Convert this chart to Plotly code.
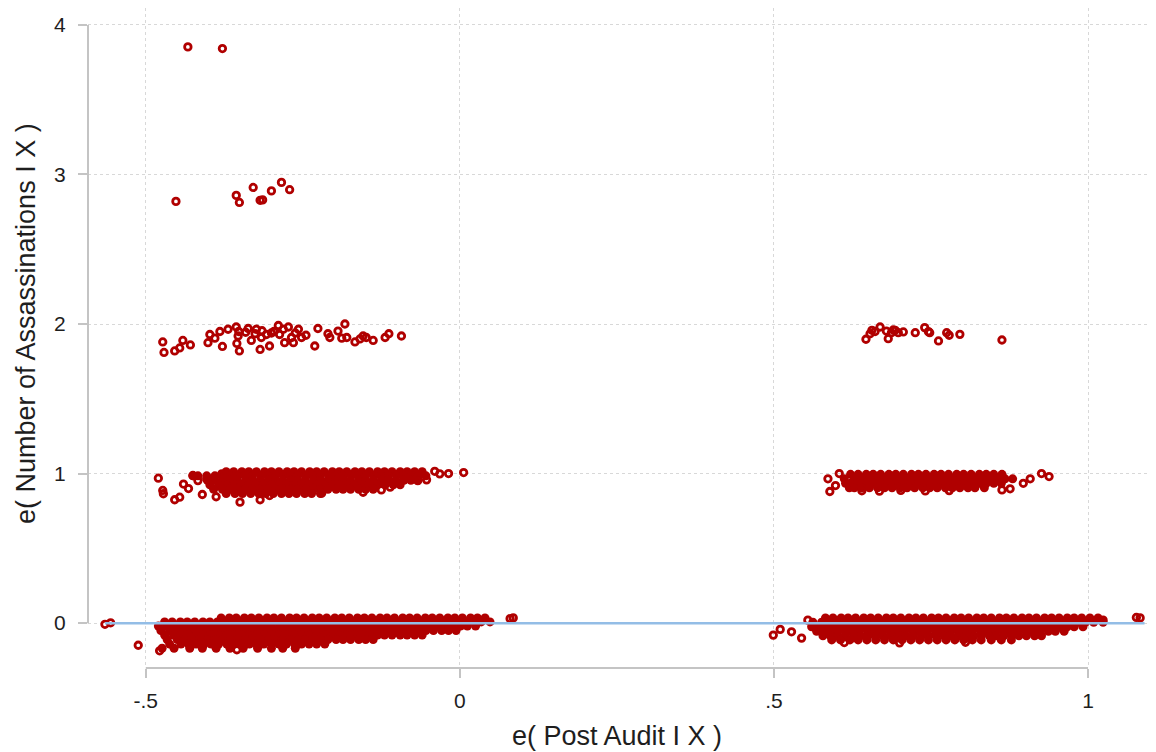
import plotly.graph_objects as go

# ---------------- data ----------------
# sparse points near y = 4 and y = 3 (left group)
top_x = [-0.433, -0.378]
top_y = [3.853, 3.842]

three_x = [-0.452, -0.356, -0.351, -0.329, -0.318, -0.314, -0.300, -0.284, -0.271]
three_y = [2.820, 2.860, 2.813, 2.913, 2.827, 2.830, 2.890, 2.947, 2.898]

# points near y = 2 (left group)
two_left_x = [-0.473, -0.471, -0.454, -0.446, -0.441, -0.429, -0.401, -0.398, -0.390, -0.382,
              -0.378, -0.369, -0.356, -0.353, -0.355, -0.351, -0.337, -0.332, -0.326, -0.324,
              -0.318, -0.316, -0.308, -0.303, -0.300, -0.289, -0.287, -0.281, -0.279, -0.273,
              -0.268, -0.265, -0.257, -0.252, -0.231, -0.226, -0.210, -0.207, -0.194, -0.188,
              -0.183, -0.180, -0.167, -0.159, -0.154, -0.149, -0.138, -0.119, -0.113, -0.093,
              -0.352, -0.296, -0.262, -0.245, -0.315, -0.341]
two_left_y = [1.880, 1.810, 1.820, 1.840, 1.890, 1.860, 1.875, 1.930, 1.905, 1.950,
              1.850, 1.965, 1.980, 1.920, 1.870, 1.820, 1.970, 1.890, 1.935, 1.965,
              1.830, 1.910, 1.930, 1.853, 1.940, 1.990, 1.930, 1.965, 1.875, 1.980,
              1.910, 1.875, 1.965, 1.910, 1.853, 1.970, 1.935, 1.910, 1.953, 1.905,
              2.000, 1.910, 1.880, 1.900, 1.920, 1.910, 1.890, 1.910, 1.935, 1.920,
              1.950, 1.950, 1.940, 1.925, 1.955, 1.945]

# points near y = 2 (right group)
two_right_x = [0.6465, 0.653, 0.656, 0.669, 0.679, 0.682, 0.687, 0.693, 0.698, 0.706,
               0.725, 0.740, 0.746, 0.748, 0.762, 0.775, 0.779, 0.796, 0.863, 0.661, 0.690]
two_right_y = [1.898, 1.935, 1.958, 1.980, 1.953, 1.902, 1.942, 1.958, 1.942, 1.947,
               1.942, 1.976, 1.949, 1.942, 1.887, 1.942, 1.925, 1.931, 1.893, 1.950, 1.960]

# dense band near y = 1 (left group): rows of (y, x values)
one_left_rows = [
    (1.012, [-0.372, -0.360, -0.347, -0.336, -0.324, -0.311, -0.300, -0.288, -0.275, -0.264,
             -0.252, -0.239, -0.228, -0.216, -0.203, -0.192, -0.180, -0.167, -0.156, -0.144,
             -0.131, -0.120, -0.108, -0.095, -0.084, -0.072, -0.060]),
    (0.985, [-0.425, -0.417, -0.403, -0.390, -0.379, -0.366, -0.354, -0.342, -0.330, -0.317,
             -0.306, -0.294, -0.281, -0.270, -0.258, -0.245, -0.234, -0.222, -0.209, -0.198,
             -0.186, -0.173, -0.162, -0.150, -0.137, -0.126, -0.114, -0.101, -0.090, -0.078,
             -0.066, -0.054]),
    (0.955, [-0.402, -0.390, -0.377, -0.366, -0.354, -0.341, -0.330, -0.318, -0.305, -0.294,
             -0.282, -0.269, -0.258, -0.246, -0.233, -0.222, -0.210, -0.197, -0.186, -0.174,
             -0.161, -0.150, -0.138, -0.125, -0.114, -0.102, -0.089, -0.078, -0.067]),
    (0.925, [-0.398, -0.384, -0.371, -0.360, -0.348, -0.335, -0.324, -0.312, -0.299, -0.288,
             -0.276, -0.263, -0.252, -0.240, -0.227, -0.216, -0.204, -0.191, -0.180, -0.168,
             -0.155, -0.144, -0.132, -0.119, -0.106, -0.095]),
    (0.895, [-0.392, -0.378, -0.366, -0.354, -0.341, -0.330, -0.318, -0.305, -0.294, -0.282,
             -0.269, -0.258, -0.246, -0.233, -0.222, -0.210, -0.197, -0.186, -0.174, -0.161,
             -0.150, -0.138]),
    (0.866, [-0.372, -0.358, -0.346, -0.333, -0.320, -0.309, -0.297, -0.284, -0.272, -0.260,
             -0.247, -0.236, -0.222]),
]
one_left_extra_x = [-0.480, -0.473, -0.472, -0.454, -0.446, -0.425, -0.417, -0.403, -0.379,
                    -0.350, -0.318, -0.040, -0.032, -0.067, -0.053, -0.125, -0.111, -0.303,
                    -0.220, -0.154, 0.006, -0.018, -0.440, -0.432, -0.410, -0.388]
one_left_extra_y = [0.969, 0.887, 0.865, 0.825, 0.842, 0.987, 0.953, 0.965, 0.998,
                    0.809, 0.825, 1.015, 0.998, 0.953, 0.958, 0.891, 0.909, 0.853,
                    0.869, 0.875, 1.007, 1.000, 0.930, 0.900, 0.860, 0.845]

# dense band near y = 1 (right group)
one_right_rows = [
    (0.995, [0.622, 0.634, 0.647, 0.658, 0.670, 0.683, 0.694, 0.706, 0.719, 0.730,
             0.742, 0.755, 0.766, 0.778, 0.791, 0.802, 0.814, 0.827, 0.838, 0.850, 0.863]),
    (0.965, [0.612, 0.628, 0.640, 0.652, 0.665, 0.676, 0.688, 0.701, 0.712, 0.724,
             0.737, 0.748, 0.760, 0.773, 0.784, 0.796, 0.809, 0.820, 0.832, 0.845, 0.856,
             0.868, 0.880]),
    (0.935, [0.614, 0.622, 0.634, 0.647, 0.658, 0.670, 0.683, 0.694, 0.706, 0.719,
             0.730, 0.742, 0.755, 0.766, 0.778, 0.791, 0.802, 0.814, 0.827, 0.838, 0.850,
             0.862]),
    (0.905, [0.620, 0.628, 0.640, 0.652, 0.665, 0.676, 0.688, 0.701, 0.712, 0.724,
             0.737, 0.748, 0.760, 0.773, 0.784, 0.796, 0.809, 0.820, 0.835]),
]
one_right_extra_x = [0.589, 0.586, 0.604, 0.926, 0.938, 0.897, 0.908, 0.876, 0.863,
                     0.640, 0.668, 0.702, 0.741, 0.779, 0.598]
one_right_extra_y = [0.880, 0.965, 1.000, 1.000, 0.980, 0.935, 0.965, 0.898, 0.891,
                     0.885, 0.882, 0.887, 0.884, 0.886, 0.920]

# dense band near y = 0 (left group)
zero_left_rows = [
    (0.035, [-0.380, -0.367, -0.356, -0.343, -0.332, -0.320, -0.307, -0.296, -0.284, -0.271,
             -0.260, -0.248, -0.235, -0.224, -0.212, -0.199, -0.188, -0.176, -0.163, -0.152,
             -0.140, -0.127, -0.116, -0.104, -0.091, -0.080, -0.068, -0.055, -0.044, -0.032,
             -0.019, -0.008, 0.004, 0.017, 0.028, 0.040]),
    (0.008, [-0.470, -0.458, -0.445, -0.434, -0.422, -0.409, -0.398, -0.386, -0.373, -0.362,
             -0.350, -0.337, -0.326, -0.314, -0.301, -0.290, -0.278, -0.265, -0.254, -0.242,
             -0.229, -0.218, -0.206, -0.193, -0.182, -0.170, -0.157, -0.146, -0.134, -0.121,
             -0.110, -0.098, -0.085, -0.074, -0.062, -0.049, -0.038, -0.026, -0.013, -0.002,
             0.010, 0.023, 0.034, 0.048]),
    (-0.020, [-0.480, -0.467, -0.456, -0.444, -0.431, -0.420, -0.408, -0.395, -0.384, -0.372,
              -0.359, -0.348, -0.336, -0.323, -0.312, -0.300, -0.287, -0.276, -0.264, -0.251,
              -0.240, -0.228, -0.215, -0.204, -0.192, -0.179, -0.168, -0.156, -0.143, -0.132,
              -0.120, -0.107, -0.096, -0.084, -0.071, -0.060, -0.048, -0.035, -0.024, -0.012,
              0.001, 0.012, 0.025]),
    (-0.050, [-0.476, -0.462, -0.450, -0.438, -0.425, -0.414, -0.402, -0.389, -0.378, -0.366,
              -0.353, -0.342, -0.330, -0.317, -0.306, -0.294, -0.281, -0.270, -0.258, -0.245,
              -0.234, -0.222, -0.209, -0.198, -0.186, -0.173, -0.162, -0.150, -0.137, -0.126,
              -0.114, -0.101, -0.090, -0.078, -0.065, -0.054, -0.042, -0.029, -0.018, -0.006]),
    (-0.080, [-0.470, -0.456, -0.444, -0.432, -0.419, -0.408, -0.396, -0.383, -0.372, -0.360,
              -0.347, -0.336, -0.324, -0.311, -0.300, -0.288, -0.275, -0.264, -0.252, -0.239,
              -0.228, -0.216, -0.203, -0.192, -0.180, -0.167, -0.156, -0.144, -0.131, -0.120,
              -0.108, -0.095, -0.084, -0.072, -0.060]),
    (-0.110, [-0.466, -0.450, -0.438, -0.426, -0.413, -0.402, -0.390, -0.377, -0.366, -0.354,
              -0.341, -0.330, -0.318, -0.305, -0.294, -0.282, -0.269, -0.258, -0.246, -0.233,
              -0.222, -0.210, -0.197, -0.186, -0.174, -0.161, -0.150, -0.138]),
    (-0.140, [-0.462, -0.444, -0.432, -0.420, -0.407, -0.396, -0.384, -0.371, -0.360, -0.348,
              -0.335, -0.324, -0.312, -0.299, -0.288, -0.276, -0.263, -0.252, -0.240, -0.228,
              -0.215]),
    (-0.168, [-0.474, -0.455, -0.430, -0.410, -0.388, -0.366, -0.345, -0.322, -0.300, -0.282,
              -0.262]),
]
zero_left_extra_x = [-0.565, -0.556, -0.512, 0.085, 0.080, -0.478, -0.355]
zero_left_extra_y = [-0.008, 0.002, -0.148, 0.035, 0.030, -0.185, -0.178]

# dense band near y = 0 (right group)
zero_right_rows = [
    (0.035, [0.582, 0.594, 0.607, 0.618, 0.630, 0.643, 0.654, 0.666, 0.679, 0.690,
             0.702, 0.715, 0.726, 0.738, 0.751, 0.762, 0.774, 0.787, 0.798, 0.810,
             0.823, 0.834, 0.846, 0.859, 0.870, 0.882, 0.895, 0.906, 0.918, 0.931,
             0.942, 0.954, 0.967, 0.978, 0.990, 1.003, 1.016]),
    (0.006, [0.562, 0.576, 0.588, 0.600, 0.613, 0.624, 0.636, 0.649, 0.660, 0.672,
             0.685, 0.696, 0.708, 0.721, 0.732, 0.744, 0.757, 0.768, 0.780, 0.793,
             0.804, 0.816, 0.829, 0.840, 0.852, 0.865, 0.876, 0.888, 0.901, 0.912,
             0.924, 0.937, 0.948, 0.960, 0.973, 0.984, 0.996, 1.009, 1.024]),
    (-0.024, [0.560, 0.570, 0.582, 0.594, 0.607, 0.618, 0.630, 0.643, 0.654, 0.666,
              0.679, 0.690, 0.702, 0.715, 0.726, 0.738, 0.751, 0.762, 0.774, 0.787,
              0.798, 0.810, 0.823, 0.834, 0.846, 0.859, 0.870, 0.882, 0.895, 0.906,
              0.918, 0.931, 0.942, 0.954, 0.967, 0.978, 0.992]),
    (-0.054, [0.568, 0.576, 0.588, 0.600, 0.613, 0.624, 0.636, 0.649, 0.660, 0.672,
              0.685, 0.696, 0.708, 0.721, 0.732, 0.744, 0.757, 0.768, 0.780, 0.793,
              0.804, 0.816, 0.829, 0.840, 0.852, 0.865, 0.876, 0.888, 0.901, 0.912,
              0.924, 0.937, 0.948, 0.962]),
    (-0.084, [0.578, 0.590, 0.602, 0.614, 0.627, 0.638, 0.650, 0.663, 0.674, 0.686,
              0.699, 0.710, 0.722, 0.735, 0.746, 0.758, 0.771, 0.782, 0.794, 0.807,
              0.818, 0.830, 0.843, 0.854, 0.866, 0.879, 0.890, 0.902, 0.915, 0.926]),
    (-0.112, [0.592, 0.606, 0.621, 0.634, 0.648, 0.662, 0.676, 0.690, 0.704, 0.718,
              0.732, 0.746, 0.760, 0.774, 0.788, 0.802, 0.816, 0.830, 0.846, 0.862,
              0.878]),
]
zero_right_extra_x = [0.499, 0.510, 0.528, 0.544, 0.554, 1.077, 1.083, 1.024, 0.612, 0.700, 0.805]
zero_right_extra_y = [-0.080, -0.042, -0.058, -0.100, 0.020, 0.038, 0.035, 0.020, -0.130, -0.132, -0.128]

# fitted line (essentially flat at zero)
fit_x = [-0.565, 1.090]
fit_y = [0.0, 0.0]

x_tick_vals = [-0.5, 0, 0.5, 1]
x_tick_text = ["-.5", "0", ".5", "1"]
y_tick_vals = [0, 1, 2, 3, 4]
y_tick_text = ["0", "1", "2", "3", "4"]

x_title = "e( Post Audit I X )"
y_title = "e( Number of Assassinations I X )"

# ---------------- assemble points ----------------
dense_x, dense_y = [], []
sparse_x, sparse_y = [], []


def add_rows(rows):
    for yv, xl in rows:
        dense_x.extend(xl)
        dense_y.extend([yv] * len(xl))


def add(xl, yl):
    sparse_x.extend(xl)
    sparse_y.extend(yl)


add_rows(zero_left_rows)
add_rows(zero_right_rows)
add_rows(one_left_rows)
add_rows(one_right_rows)

add(zero_left_extra_x, zero_left_extra_y)
add(zero_right_extra_x, zero_right_extra_y)
add(one_left_extra_x, one_left_extra_y)
add(one_right_extra_x, one_right_extra_y)
add(two_left_x, two_left_y)
add(two_right_x, two_right_y)
add(three_x, three_y)
add(top_x, top_y)

RED = "#b00000"
AXIS_GREY = "#c4c4c4"
GRID_GREY = "#d8d8d8"
FONT = "Liberation Sans, Arial, Helvetica, sans-serif"
TXT = "#1e1e1e"

fig = go.Figure()
# heavily overlapping points in the dense bands (rings merge into solid red)
fig.add_trace(go.Scatter(
    x=dense_x, y=dense_y, mode="markers",
    marker=dict(symbol="circle", size=9, color=RED, line=dict(width=0)),
    showlegend=False, hoverinfo="skip",
))
fig.add_trace(go.Scatter(
    x=sparse_x, y=sparse_y, mode="markers",
    marker=dict(symbol="circle-open", size=6.5, color=RED, line=dict(width=2.8, color=RED)),
    showlegend=False, hoverinfo="skip",
))
fig.add_trace(go.Scatter(
    x=fit_x, y=fit_y, mode="lines",
    line=dict(color="#93bde6", width=2.5),
    showlegend=False, hoverinfo="skip",
))

fig.update_layout(
    width=1156, height=752,
    margin=dict(l=88, r=6, t=8, b=84),
    paper_bgcolor="white", plot_bgcolor="white",
    font=dict(family=FONT, size=21, color=TXT),
    xaxis=dict(
        range=[-0.592, 1.0987], tickvals=x_tick_vals, ticktext=x_tick_text,
        showgrid=True, gridcolor=GRID_GREY, griddash="dot", gridwidth=1,
        zeroline=False, showline=False,
        ticks="outside", ticklen=9, tickwidth=1.5, tickcolor=AXIS_GREY,
        ticklabelstandoff=5,
        tickfont=dict(size=21, color=TXT),
    ),
    yaxis=dict(
        range=[-0.30, 4.113], tickvals=y_tick_vals, ticktext=y_tick_text,
        showgrid=True, gridcolor=GRID_GREY, griddash="dot", gridwidth=1,
        zeroline=False, showline=False,
        ticks="outside", ticklen=9, tickwidth=1.5, tickcolor=AXIS_GREY,
        ticklabelstandoff=8,
        tickfont=dict(size=21, color=TXT),
    ),
    shapes=[
        dict(type="line", xref="x", yref="paper", x0=-0.5, x1=1, y0=0, y1=0,
             line=dict(color=AXIS_GREY, width=2)),
        dict(type="line", xref="paper", yref="y", x0=0, x1=0, y0=0, y1=4,
             line=dict(color=AXIS_GREY, width=2)),
    ],
    annotations=[
        dict(text=x_title, xref="x", yref="paper", x=0.25, y=0, yshift=-68,
             showarrow=False, xanchor="center", yanchor="middle",
             font=dict(size=27, color=TXT, family=FONT)),
        dict(text=y_title, xref="paper", yref="y", x=0, y=2, xshift=-62,
             showarrow=False, textangle=-90, xanchor="center", yanchor="middle",
             font=dict(size=27, color=TXT, family=FONT)),
    ],
)

fig.write_html("out.html")
